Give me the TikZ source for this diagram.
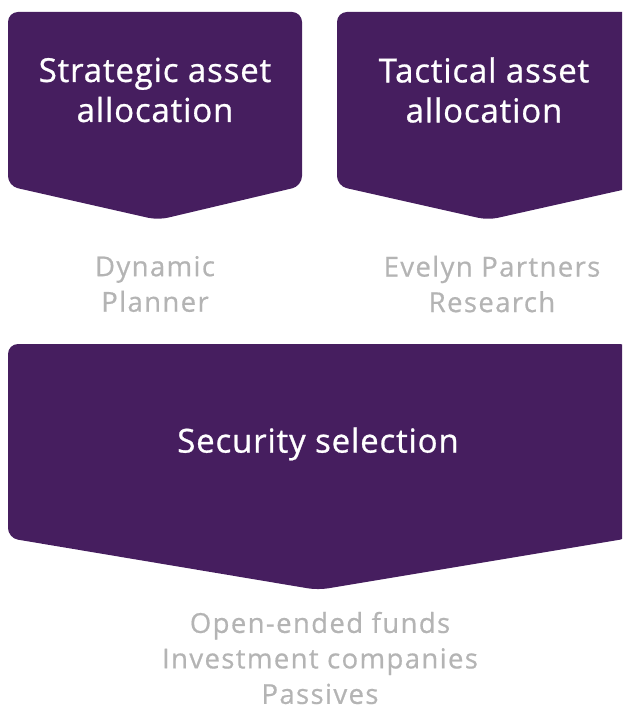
\documentclass[tikz,border=0pt]{standalone}
\usepackage{fontspec}
\setmainfont{Open Sans}
\newfontfamily\titlefont{Open Sans}[LetterSpace=2.5, FakeBold=0.8]
\newfontfamily\sourcefont{Open Sans}[LetterSpace=5, FakeBold=0.6]
\usepackage{xcolor}
\usetikzlibrary{positioning, calc}
\definecolor{plum}{HTML}{461E5F}
\definecolor{softgrey}{HTML}{B4B4B4}

\tikzset{
  chevron/.style={fill=plum, draw=none, rounded corners=10pt},
  title/.style={text=white, align=center, inner sep=0pt, font=\titlefont\fontsize{33}{40}\selectfont},
  source/.style={text=softgrey, align=center, inner sep=0pt, font=\sourcefont\fontsize{27.5}{35.5}\selectfont}
}

\begin{document}
\begin{tikzpicture}[x=1pt,y=-1pt]
            \useasboundingbox (0,0) rectangle (622,711);
            \clip (0,0) rectangle (622,711);

            % chevrons
            \fill[chevron] (8,12) -- (302,12) -- (302,186) -- (158,220) -- (8,186) -- cycle;
            \fill[chevron] (337,12) -- (640,12) -- (640,186) -- (488,220) -- (337,186) -- cycle;
            \fill[chevron] (8,344) -- (630,344) -- (630,538) -- (318,590) -- (8,538) -- cycle;

            \node[title] (strategic) at (155,90) {Strategic asset\\allocation};
            \node[title] (tactical) at (484,90) {Tactical asset\\allocation};
            \node[title] (security) at (318,444) {Security selection};

            \node[source] (dynamic) at (155,284) {Dynamic\\Planner};
            \node[source] (evelyn) at (492,284) {Evelyn Partners\\Research};
            \node[source] (vehicles) at (320,658) {Open-ended funds\\Investment companies\\Passives};
        \end{tikzpicture}
\end{document}
